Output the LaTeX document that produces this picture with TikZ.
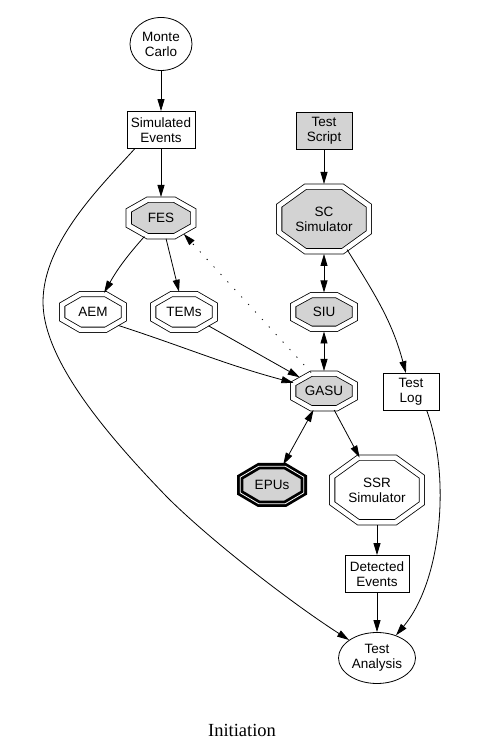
\documentclass[tikz,border=0pt]{standalone}
\usepackage{fontspec}
\setmainfont{Liberation Serif}
\setsansfont{Liberation Sans}
\usepackage{tikz}
\usetikzlibrary{arrows.meta,positioning,shapes.geometric,calc,backgrounds}
\definecolor{nodegray}{HTML}{D3D3D3}
\newcommand{\nodefont}{\sffamily\fontsize{13.5}{15}\selectfont}
% octagon drawn inside the box of a node
\newcommand{\octoutline}[1]{%
  let \p1=(#1.west), \p2=(#1.east), \p3=(#1.south), \p4=(#1.north),
      \n1={\x1+2.7pt}, \n2={\x2-2.7pt}, \n3={\y3+2.7pt}, \n4={\y4-2.7pt},
      \n5={0.293*(\n2-\n1)}, \n6={0.293*(\n4-\n3)}
  in (\n1,\n3+\n6) -- (\n1,\n4-\n6) -- (\n1+\n5,\n4) -- (\n2-\n5,\n4)
  -- (\n2,\n4-\n6) -- (\n2,\n3+\n6) -- (\n2-\n5,\n3) -- (\n1+\n5,\n3) -- cycle}
\tikzset{
  plainbox/.style={
    rectangle, draw, line width=0.8pt, minimum height=37pt,
    font=\nodefont, align=center, inner sep=3pt
  },
  ovalnode/.style={
    ellipse, draw, line width=0.8pt,
    font=\nodefont, align=center, inner sep=1pt
  },
  octo/.style={
    ellipse, inner sep=0pt, outer sep=0pt,
    font=\nodefont, align=center
  },
  octline/.style={
    draw, fill=#1, double, double distance=4.5pt, line width=0.8pt
  },
  octline/.default=white,
  octbold/.style={line width=2.8pt, double distance=0.8pt},
  flow/.style={-{Triangle[length=12pt,width=7pt]}, line width=0.8pt},
  biflow/.style={{Triangle[length=12pt,width=7pt]}-{Triangle[length=12pt,width=7pt]},
    line width=0.8pt},
  dotflow/.style={flow, dash pattern=on 1.2pt off 9pt},
}
\begin{document}
\begin{tikzpicture}[x=1pt,y=1pt]
  \useasboundingbox (0,0) rectangle (484,752);
  % plain nodes
  \node[ovalnode, minimum width=62pt, minimum height=53pt] (mc) at (161,708) {Monte\\Carlo};
  \node[plainbox, minimum width=68pt] (simev) at (161,622) {Simulated\\Events};
  \node[plainbox, fill=nodegray, minimum width=56pt] (tscript) at (324,621) {Test\\Script};
  \node[plainbox, minimum width=56pt] (tlog) at (411,360) {Test\\Log};
  \node[plainbox, minimum width=64pt] (detev) at (377,178) {Detected\\Events};
  \node[ovalnode, minimum width=77pt, minimum height=51pt] (testan) at (377,94) {Test\\Analysis};
  % octagon nodes
  \node[octo, minimum width=70pt, minimum height=42pt] (fes) at (161,534) {FES};
  \node[octo, minimum width=95pt, minimum height=70pt] (scsim) at (324,533) {SC\\Simulator};
  \node[octo, minimum width=67pt, minimum height=41pt] (aem) at (93,440) {AEM};
  \node[octo, minimum width=67pt, minimum height=41pt] (tems) at (184,440) {TEMs};
  \node[octo, minimum width=67pt, minimum height=39pt] (siu) at (324,440) {SIU};
  \node[octo, minimum width=67pt, minimum height=40pt] (gasu) at (324,361) {GASU};
  \node[octo, minimum width=69pt, minimum height=43pt] (epus) at (272,267) {EPUs};
  \node[octo, minimum width=95pt, minimum height=70pt] (ssr) at (377,262) {SSR\\Simulator};
  \node[font=\fontsize{18.5}{22}\selectfont] (caption) at (242,22) {Initiation};

  \begin{scope}[on background layer]
    \draw[octline=nodegray] \octoutline{fes};
    \draw[octline=nodegray] \octoutline{scsim};
    \draw[octline] \octoutline{aem};
    \draw[octline] \octoutline{tems};
    \draw[octline=nodegray] \octoutline{siu};
    \draw[octline=nodegray] \octoutline{gasu};
    \draw[octline=nodegray, octbold] \octoutline{epus};
    \draw[octline] \octoutline{ssr};
  \end{scope}

  % connectors
  \coordinate (loopw) at (43,450);
  \coordinate (loops) at (167,255);
  \draw[flow] (mc) -- (simev);
  \draw[flow] (simev) -- (fes);
  \draw[flow] ([xshift=8pt]simev.south west) .. controls (102,567) and (43,510) .. (loopw)
    .. controls (43,390) and (112,312) .. (loops)
    .. controls (210,212) and (290,150) .. (testan);
  \draw[flow] (fes) to[bend right=6] (aem);
  \draw[flow] (fes) -- (tems);
  \draw[flow] (aem.-28) to[out=-18,in=165] (gasu);
  \draw[flow] (tems) -- (gasu);
  \draw[dotflow] (gasu.125) -- (fes.-35);
  \draw[flow] (tscript) -- (scsim);
  \draw[biflow] (scsim) -- (siu);
  \draw[biflow] (siu) -- (gasu);
  \draw[flow] (scsim.-53) to[out=-58,in=105] (tlog);
  \draw[biflow] (gasu) -- (epus);
  \draw[flow] (gasu) -- (ssr);
  \draw[flow] (ssr) -- (detev);
  \draw[flow] (detev) -- (testan);
  \draw[flow] (tlog.-50) to[out=-70,in=50,looseness=0.8] (testan);
\end{tikzpicture}
\end{document}
